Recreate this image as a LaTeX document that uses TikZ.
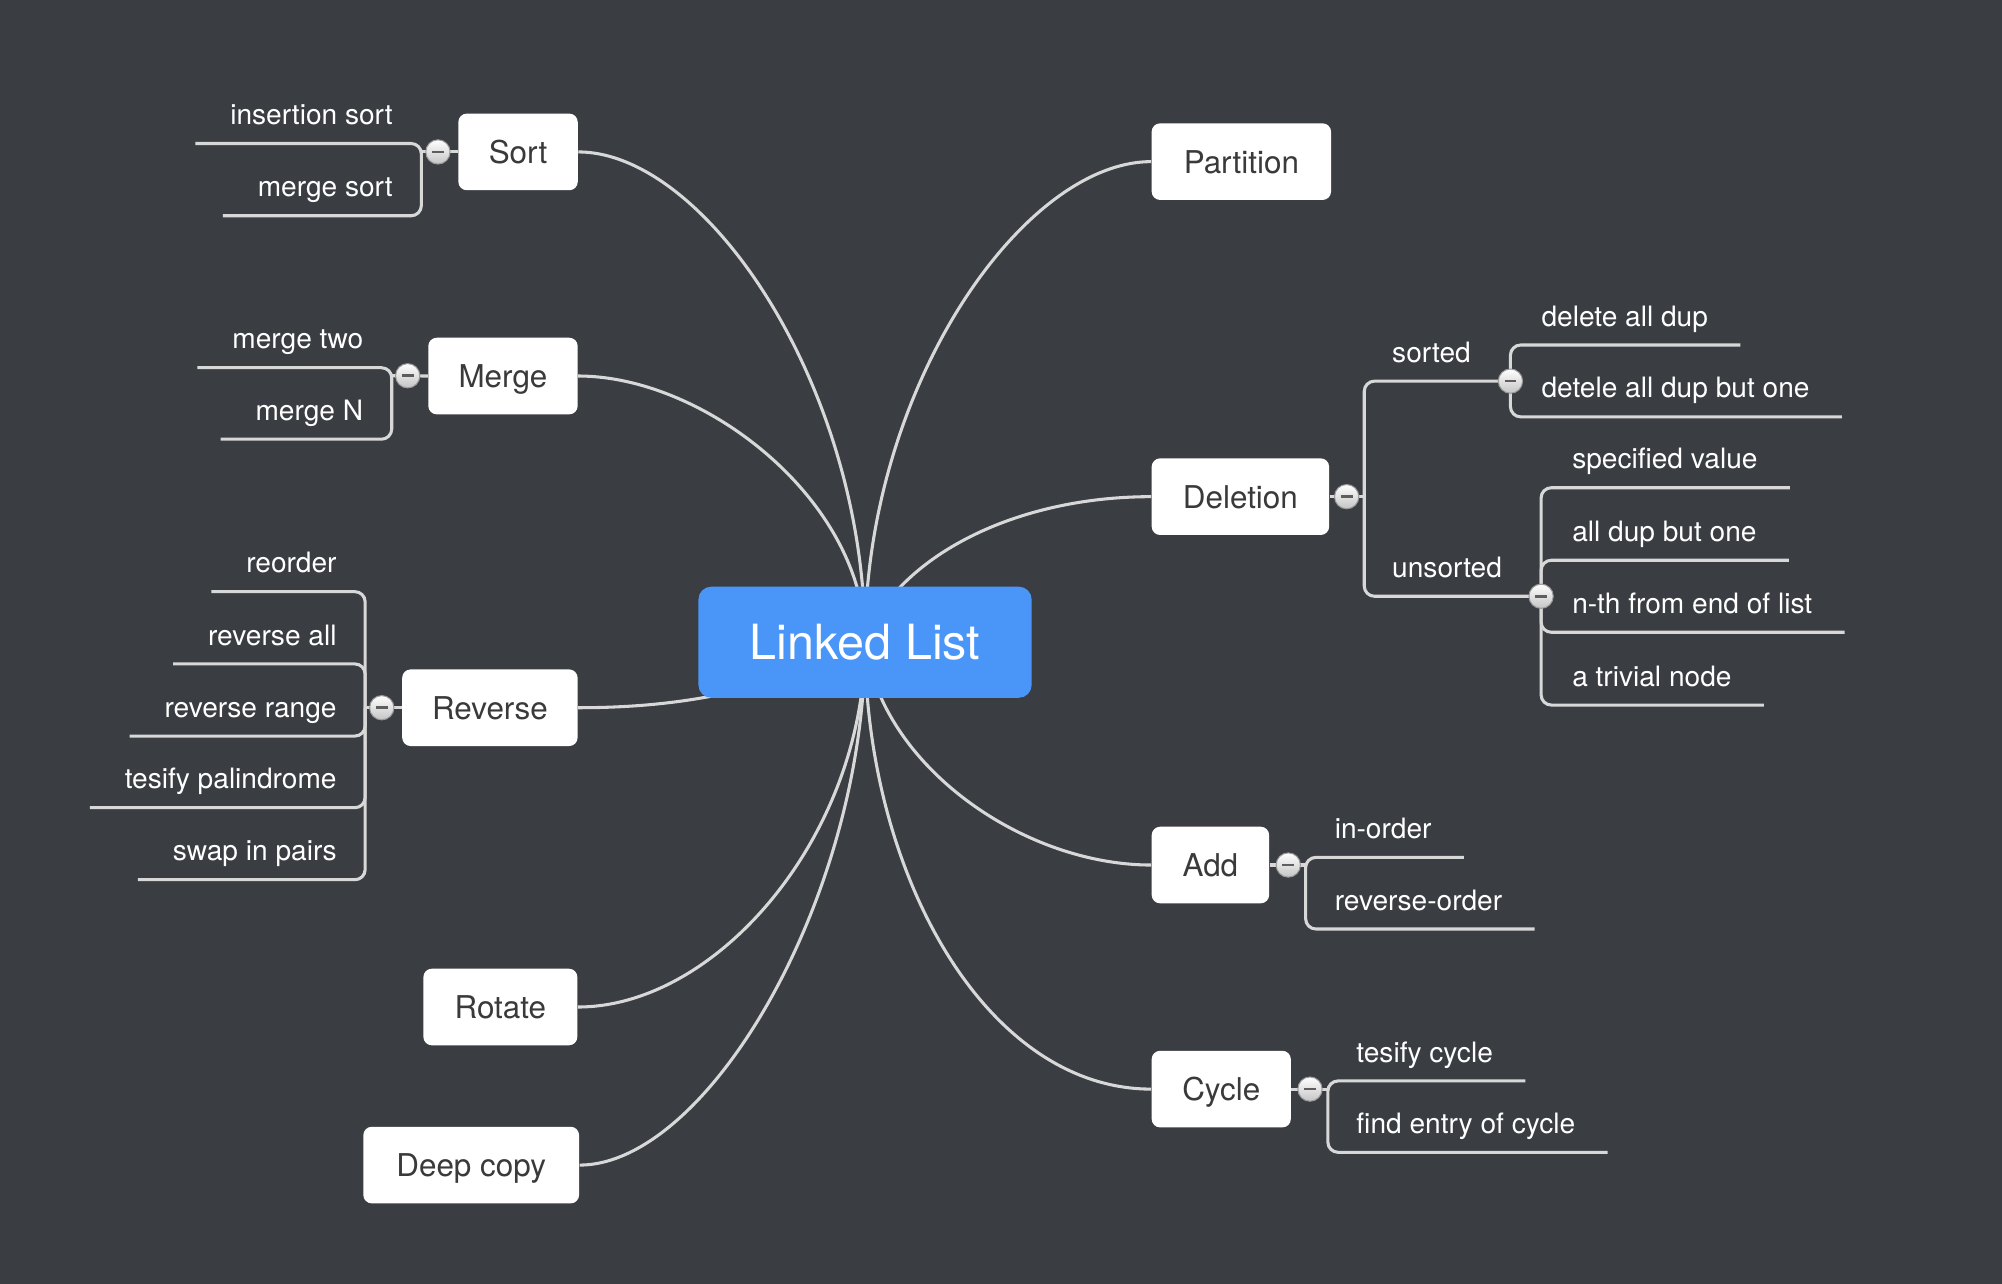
\documentclass[tikz,border=0pt]{standalone}
\usepackage{fontspec}
\newfontfamily\heros{TeX Gyre Heros}
\newcommand\mmboxfont{\heros\fontsize{12.3pt}{14pt}\selectfont}
\newcommand\mmleaffont{\heros\fontsize{11pt}{13pt}\selectfont}
\newcommand\mmrootfont{\heros\fontsize{19pt}{22pt}\selectfont}
\pgfdeclarelayer{back}
\pgfdeclarelayer{lines}
\pgfsetlayers{back,lines,main}
\definecolor{bgc}{HTML}{3A3D42}
\definecolor{linec}{HTML}{D8D8D8}
\definecolor{rootc}{HTML}{4A95F8}
\definecolor{boxtext}{HTML}{3A3A3A}
\definecolor{btnbot}{HTML}{C4C4C4}
\definecolor{btnedge}{HTML}{9A9A9A}
\definecolor{btnminus}{HTML}{5E5E5E}
\begin{document}
\begin{tikzpicture}[x=0.5pt,y=-0.5pt,
  conn/.style={draw=linec, line width=1.2pt},
  br/.style={conn, rounded corners=4pt},
  box/.style={fill=white, rounded corners=3.3pt, minimum height=30pt, inner sep=0pt,
    text=boxtext, font=\mmboxfont, text height=8.9pt, text depth=0pt},
  leaf/.style={inner sep=0pt, text=white, font=\mmleaffont, text height=8pt, text depth=7.2pt},
  leafL/.style={leaf, anchor=south east},
  leafR/.style={leaf, anchor=south west},
  btn/.style={circle, minimum size=9.5pt, inner sep=0pt, top color=white, bottom color=btnbot,
    draw=btnedge, line width=0.4pt,
    path picture={\draw[line width=1pt, btnminus]
      ([xshift=-2.3pt]path picture bounding box.center) -- ([xshift=2.3pt]path picture bounding box.center);}}
]
\begin{pgfonlayer}{back}
\fill[bgc] (0,0) rectangle (1568,1005.6);
\end{pgfonlayer}
\useasboundingbox (0,0) rectangle (1568,1005.6);

% root
\node[box, minimum width=130.5pt, minimum height=43.5pt, fill=rootc, text=white,
  font=\mmrootfont, text height=13.7pt, rounded corners=5pt] (ll) at (677.5,503) {Linked List};

% main topics
\node[box, minimum width=46.75pt] (sort) at (405.75,119) {Sort};
\node[box, minimum width=58.5pt] (merge) at (393.95,294.5) {Merge};
\node[box, minimum width=68.7pt] (rev) at (383.7,554.3) {Reverse};
\node[box, minimum width=60.3pt] (rot) at (391.9,788.7) {Rotate};
\node[box, minimum width=84.5pt] (deep) at (369.05,912.5) {Deep copy};
\node[box, minimum width=70.25pt] (part) at (972.25,126.6) {Partition};
\node[box, minimum width=69.5pt] (del) at (971.5,389) {Deletion};
\node[box, minimum width=46pt] (add) at (948,677.5) {Add};
\node[box, minimum width=54.5pt] (cyc) at (956.5,853) {Cycle};

% bracket coordinates
\coordinate (sortbr) at (330,119);
\coordinate (mergebr) at (306.8,294.3);
\coordinate (revbr) at (286,554.3);
\coordinate (delbr) at (1068.5,389);
\coordinate (addbr) at (1022.6,677.5);
\coordinate (cycbr) at (1040,853);

% leaves
\node[leafL] (s1) at (308,112.4) {insertion sort};
\node[leafL] (s2) at (308,169) {merge sort};
\node[leafL] (m1) at (284.8,288) {merge two};
\node[leafL] (m2) at (284.8,344) {merge N};
\node[leafL] (r1) at (264,463.4) {reorder};
\node[leafL] (r2) at (264,520) {reverse all};
\node[leafL] (r3) at (264,576.5) {reverse range};
\node[leafL] (r4) at (264,632.6) {tesify palindrome};
\node[leafL] (r5) at (264,689) {swap in pairs};
\node[leafR] (sorted) at (1090,298.5) {sorted};
\node[leafR] (unsorted) at (1090,467) {unsorted};
\node[leafR] (d1) at (1207,270.2) {delete all dup};
\node[leafR] (d2) at (1207,326.5) {detele all dup but one};
\node[leafR] (u1) at (1231,382) {specified value};
\node[leafR] (u2) at (1231,438.8) {all dup but one};
\node[leafR] (u3) at (1231,495.2) {n-th from end of list};
\node[leafR] (u4) at (1231,552.2) {a trivial node};
\node[leafR] (a1) at (1045,671.5) {in-order};
\node[leafR] (a2) at (1045,727.6) {reverse-order};
\node[leafR] (c1) at (1062,846.6) {tesify cycle};
\node[leafR] (c2) at (1062,902.5) {find entry of cycle};

% buttons
\node[btn] (sortb) at (343,119) {};
\node[btn] (mergeb) at (319.3,294.3) {};
\node[btn] (revb) at (299,554.3) {};
\node[btn] (delb) at (1054.7,389) {};
\node[btn] (addb) at (1009,677.5) {};
\node[btn] (cycb) at (1026,853) {};
\node[btn] (sortedb) at (1183,298.5) {};
\node[btn] (unsortedb) at (1207,467) {};

\begin{pgfonlayer}{lines}
% main curves
\draw[conn] (sort.east) .. controls +(100,0) and +(0,-200) .. (ll.center);
\draw[conn] (merge.east) .. controls +(100,0) and +(0,-110) .. (ll.center);
\draw[conn] (rev.east) .. controls +(68,0) and +(-77.5,42) .. (ll.center);
\draw[conn] (rot.east) .. controls +(110,0) and +(0,150) .. (ll.center);
\draw[conn] (deep.east) .. controls +(100,0) and +(0,200) .. (ll.center);
\draw[conn] (part.west) .. controls +(-100,0) and +(0,-200) .. (ll.center);
\draw[conn] (del.west) .. controls +(-112,0) and +(22.5,-63) .. (ll.center);
\draw[conn] (add.west) .. controls +(-100,0) and +(12.5,97) .. (ll.center);
\draw[conn] (cyc.west) .. controls +(-130,0) and +(0,180) .. (ll.center);

% stubs
\draw[conn] (sort.west) -- (sortbr);
\draw[conn] (merge.west) -- (mergebr);
\draw[conn] (rev.west) -- (revbr);
\draw[conn] (del.east) -- (delbr);
\draw[conn] (add.east) -- (addbr);
\draw[conn] (cyc.east) -- (cycbr);

% brackets, left side
\draw[br] ([xshift=-13.5pt]s1.south west) -| (sortbr |- s2.south) -- ([xshift=-13.5pt]s2.south west);
\draw[br] ([xshift=-13.5pt]m1.south west) -| (mergebr |- m2.south) -- ([xshift=-13.5pt]m2.south west);
\draw[br] ([xshift=-13.5pt]r1.south west) -| (revbr |- r5.south) -- ([xshift=-13.5pt]r5.south west);
\draw[br] (revbr) |- ([xshift=-13.5pt]r2.south west);
\draw[br] (revbr) |- ([xshift=-13.5pt]r3.south west);
\draw[br] (revbr) |- ([xshift=-13.5pt]r4.south west);

% brackets, right side
\draw[br] (sortedb.center) -| (delbr |- unsortedb.center) -- (unsortedb.center);
\draw[br] ([xshift=12.5pt]d1.south east) -| (sortedb.center |- d2.south) -- ([xshift=12.5pt]d2.south east);
\draw[br] ([xshift=12.5pt]u1.south east) -| (unsortedb.center |- u4.south) -- ([xshift=12.5pt]u4.south east);
\draw[br] (unsortedb.center) |- ([xshift=12.5pt]u2.south east);
\draw[br] (unsortedb.center) |- ([xshift=12.5pt]u3.south east);
\draw[br] ([xshift=12.5pt]a1.south east) -| (addbr |- a2.south) -- ([xshift=12.5pt]a2.south east);
\draw[br] ([xshift=12.5pt]c1.south east) -| (cycbr |- c2.south) -- ([xshift=12.5pt]c2.south east);
\end{pgfonlayer}
\end{tikzpicture}
\end{document}
